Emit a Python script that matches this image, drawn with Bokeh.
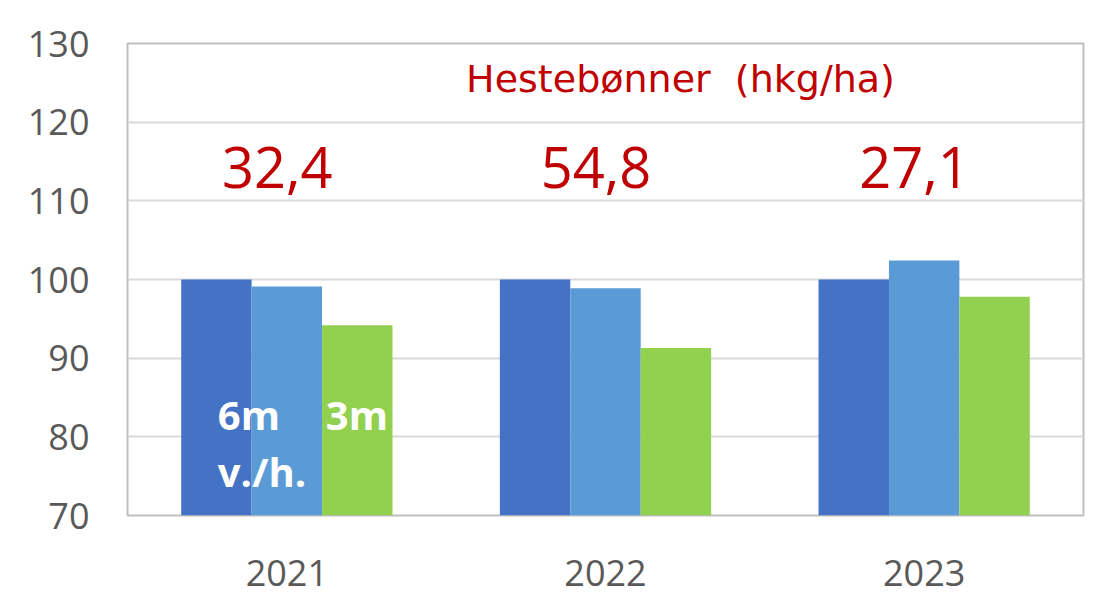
from bokeh.plotting import figure
from bokeh.models import FactorRange, Range1d, ColumnDataSource
from bokeh.transform import dodge
from bokeh.core.properties import value
from bokeh.embed import file_html
from bokeh.resources import INLINE

years = ["2021", "2022", "2023"]
s_6m = [100.0, 100.0, 100.0]
s_vh = [99.1, 98.9, 102.4]
s_3m = [94.2, 91.3, 97.8]
yields = ["32,4", "54,8", "27,1"]
title_text = "Hestebønner\u00a0 (hkg/ha)"
y_ticks = [70, 80, 90, 100, 110, 120, 130]

src = ColumnDataSource(dict(x=years, a=s_6m, b=s_vh, c=s_3m, lab=yields))

p = figure(x_range=FactorRange(*years), y_range=Range1d(70, 130),
           width=1095, height=597, output_backend="svg", toolbar_location=None,
           min_border_left=127, min_border_top=43, min_border_right=12, min_border_bottom=82)

bw = 0.221
p.vbar(x=dodge("x", -bw, range=p.x_range), top="a", bottom=70, width=bw, source=src,
       fill_color="#4472c4", line_color=None)
p.vbar(x=dodge("x", 0, range=p.x_range), top="b", bottom=70, width=bw, source=src,
       fill_color="#5b9bd5", line_color=None)
p.vbar(x=dodge("x", bw, range=p.x_range), top="c", bottom=70, width=bw, source=src,
       fill_color="#92d050", line_color=None)

# yield numbers
p.text(x=dodge("x", -0.03, range=p.x_range), y=114.3, text="lab", source=src,
       text_font=value("Open Sans"), text_font_size="56px", text_color="#c00000",
       text_align="center", text_baseline="alphabetic")
# title inside plot
p.text(x=[years[1]], y=[125.5], text=[title_text], x_offset=75,
       text_font=value("DejaVu Sans"), text_font_size="38px", text_color="#c00000",
       text_align="center", text_baseline="alphabetic")
# white labels
p.text(x=[years[0]], y=[82.9], text=["6m"], x_offset=-69,
       text_font=value("Open Sans"), text_font_size="40px", text_font_style="bold",
       text_color="white", text_align="left", text_baseline="alphabetic")
p.text(x=[years[0]], y=[75.6], text=["v./h."], x_offset=-69,
       text_font=value("Open Sans"), text_font_size="40px", text_font_style="bold",
       text_color="white", text_align="left", text_baseline="alphabetic")
p.text(x=[years[0]], y=[82.9], text=["3m"], x_offset=39,
       text_font=value("Open Sans"), text_font_size="40px", text_font_style="bold",
       text_color="white", text_align="left", text_baseline="alphabetic")

p.yaxis.ticker = y_ticks
for ax in (p.xaxis[0], p.yaxis[0]):
    ax.axis_line_color = None
    ax.major_tick_line_color = None
    ax.minor_tick_line_color = None
    ax.major_label_text_font = "Open Sans"
    ax.major_label_text_font_size = "36px"
    ax.major_label_text_color = "#595959"
p.yaxis.major_label_standoff = 32
p.xaxis.major_label_standoff = 38

p.xgrid.grid_line_color = None
p.ygrid.grid_line_color = "#d9d9d9"
p.ygrid.grid_line_width = 2
p.outline_line_color = "#bfbfbf"
p.outline_line_width = 2
p.background_fill_color = "white"
p.border_fill_color = "white"

open("out.html", "w").write(file_html(p, INLINE))
